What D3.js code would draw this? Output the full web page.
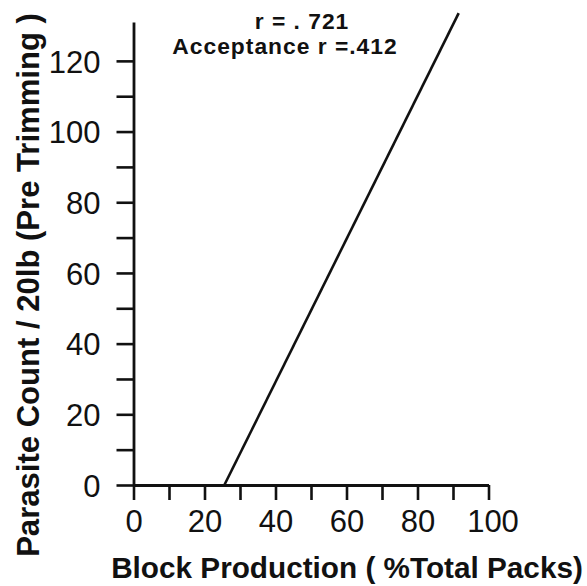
<!DOCTYPE html>
<html>
<head>
<meta charset="utf-8">
<script src="https://cdn.jsdelivr.net/npm/d3@7"></script>
<style>
  body { margin: 0; background: #fff; }
  text { font-family: "Liberation Sans", Arial, sans-serif; fill: #111; }
</style>
</head>
<body>
<svg id="chart"></svg>
<script>
// data
const xTicks = [0, 10, 20, 30, 40, 50, 60, 70, 80, 90, 100];
const yTicks = [0, 10, 20, 30, 40, 50, 60, 70, 80, 90, 100, 110, 120];
const fitX = [25.6, 91.6];
const fitY = [0, 133.5];
const notes = ["r = . 721", "Acceptance r =.412"];
const xTitle = "Block Production ( %Total Packs)";
const yTitle = "Parasite Count / 20lb (Pre Trimming )";

const width = 587, height = 586;
const svg = d3.select("#chart").attr("width", width).attr("height", height);

const x = d3.scaleLinear().domain([0, 100]).range([133.5, 488.5]);
const y = d3.scaleLinear().domain([0, 131]).range([485, 22]);

// fitted regression line
svg.append("path")
    .datum(fitX.map((d, i) => [d, fitY[i]]))
    .attr("fill", "none")
    .attr("stroke", "#111")
    .attr("stroke-width", 2.6)
    .attr("d", d3.line().x(d => x(d[0])).y(d => y(d[1])));

const xAxis = svg.append("g")
    .attr("transform", `translate(0,${y(0)})`)
    .call(d3.axisBottom(x).tickValues(xTicks)
        .tickFormat(d => d % 20 === 0 ? d : "")
        .tickSize(15).tickSizeOuter(0).tickPadding(10));

const yAxis = svg.append("g")
    .attr("transform", `translate(${x(0)},0)`)
    .call(d3.axisLeft(y).tickValues(yTicks)
        .tickFormat(d => d % 20 === 0 ? d : "")
        .tickSize(17).tickSizeOuter(0).tickPadding(16));

[xAxis, yAxis].forEach(g => {
    g.select(".domain").attr("stroke", "#111").attr("stroke-width", 2.8);
    g.selectAll(".tick line").attr("stroke", "#111").attr("stroke-width", 2.6);
    g.selectAll(".tick text")
        .style("font-family", "'Liberation Sans', Arial, sans-serif")
        .attr("font-size", 31)
        .attr("fill", "#111");
});
xAxis.selectAll(".tick text").attr("dy", "0.7em");
xAxis.selectAll(".tick text").filter(d => d === 100).attr("dx", 4);
yAxis.selectAll(".tick text").attr("dy", "0.36em");

function fit(sel, len) {
    const w = sel.node().getComputedTextLength();
    sel.attr("font-size", +sel.attr("font-size") * len / w);
}

// annotation
const n1 = svg.append("text")
    .attr("x", 302).attr("y", 29)
    .attr("text-anchor", "middle")
    .attr("font-size", 21).attr("font-weight", 600)
    .attr("letter-spacing", 1)
    .text(notes[0]);
const n2 = svg.append("text")
    .attr("x", 285).attr("y", 54)
    .attr("text-anchor", "middle")
    .attr("font-size", 21).attr("font-weight", 600)
    .attr("letter-spacing", 1)
    .text(notes[1]);
fit(n2, 227);
n1.attr("font-size", n2.attr("font-size"));

// axis titles, sized to span the same length as in the source
const xt = svg.append("text")
    .attr("x", 347).attr("y", 578)
    .attr("text-anchor", "middle")
    .attr("font-size", 28).attr("font-weight", "bold")
    .text(xTitle);
fit(xt, 472);

const yt = svg.append("text")
    .attr("transform", "translate(39,285) rotate(-90)")
    .attr("text-anchor", "middle")
    .attr("font-size", 28).attr("font-weight", "bold")
    .text(yTitle);
fit(yt, 544);
</script>
</body>
</html>
